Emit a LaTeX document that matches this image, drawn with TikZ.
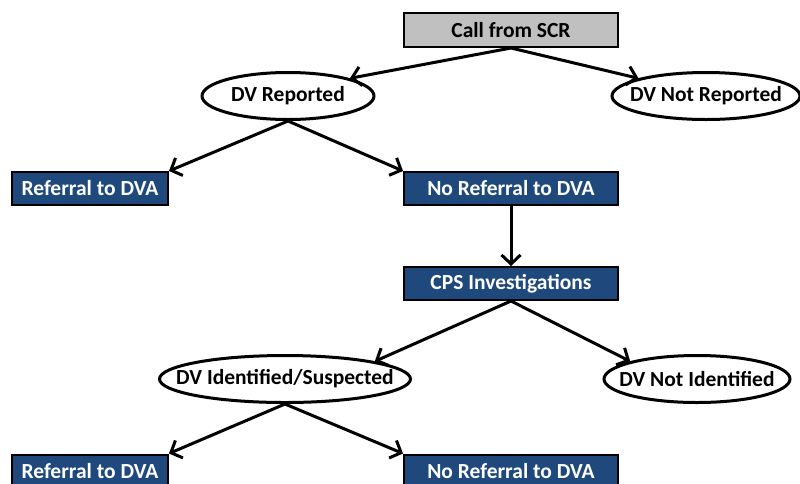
\documentclass[tikz,border=0pt]{standalone}
\usepackage{fontspec}
\setmainfont{Carlito}
\usetikzlibrary{shapes.geometric}
\usetikzlibrary{arrows.meta}
\tikzset{>=latex}
\definecolor{boxblue}{HTML}{1F497D}
\definecolor{boxgrey}{HTML}{C0C0C0}

\begin{document}
\begin{tikzpicture}[
    x=1pt, y=-1pt,
    start/.style={
        draw, line width=2pt, minimum width=214pt, minimum height=34pt,
        fill=boxgrey, font=\fontsize{21.5}{24}\selectfont\bfseries
    },
    outcome/.style={
        draw, line width=2pt, minimum height=33pt, inner sep=2pt,
        fill=boxblue, text=white, font=\fontsize{21.5}{24}\selectfont\bfseries
    },
    status/.style={
        draw, ellipse, line width=3pt, minimum height=47pt,
        inner xsep=-25pt, inner ysep=0pt,
        fill=white, font=\fontsize{21.5}{24}\selectfont\bfseries
    },
    conn/.style={-{Straight Barb[length=9pt,width=19pt]}, line width=3pt},
]
\useasboundingbox (0,0) rectangle (800,483);

% Boxes
\node[start] (call) at (511,30) {Call from SCR};
\node[outcome, minimum width=156pt] (ref1)  at (90,188.5)  {Referral to DVA};
\node[outcome, minimum width=214pt] (noref1) at (511,188.5) {No Referral to DVA};
\node[outcome, minimum width=214pt] (cps)   at (511,283.5) {CPS Investigations};
\node[outcome, minimum width=156pt] (ref2)  at (90,471)    {Referral to DVA};
\node[outcome, minimum width=214pt] (noref2) at (511,471)  {No Referral to DVA};

% Ellipses
\node[status, minimum width=172pt] (dvrep)   at (288,96)  {DV Reported};
\node[status, minimum width=188pt] (dvnorep) at (706,96)  {DV Not Reported};
\node[status, minimum width=251pt] (dvid)    at (285,379) {DV Identified/Suspected};
\node[status, minimum width=186pt] (dvnoid)  at (697,379) {DV Not Identified};

% Connections
\draw[conn] (call.south)  -- (dvrep.north east);
\draw[conn] (call.south)  -- (dvnorep.north west);
\draw[conn] (dvrep.south) -- (ref1.north east);
\draw[conn] (dvrep.south) -- (noref1.north west);
\draw[conn] (noref1.south) -- (cps.north);
\draw[conn] (cps.south)   -- (dvid.north east);
\draw[conn] (cps.south)   -- (dvnoid.north west);
\draw[conn] (dvid.south)  -- (ref2.north east);
\draw[conn] (dvid.south)  -- (noref2.north west);

\end{tikzpicture}
\end{document}
